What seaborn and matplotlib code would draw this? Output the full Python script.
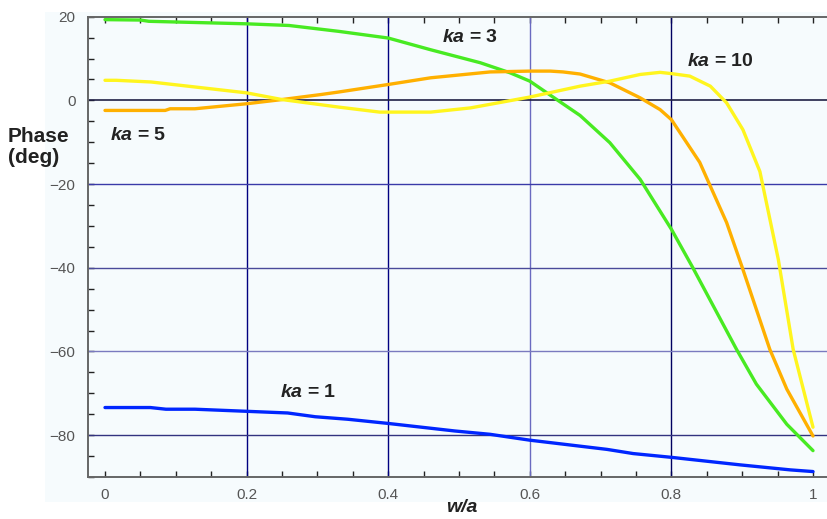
import matplotlib
matplotlib.use("Agg")
import matplotlib.pyplot as plt
import matplotlib.patches as mpatches
from matplotlib.ticker import MultipleLocator
import seaborn as sns

# ---- data ----
blue_x = [0, 0.064, 0.086, 0.127, 0.2, 0.258, 0.297, 0.343, 0.4, 0.494, 0.544, 0.6, 0.709, 0.746, 0.8, 0.897, 0.968, 1.0]
blue_y = [-73.4, -73.4, -73.8, -73.8, -74.3, -74.7, -75.6, -76.2, -77.2, -79.0, -79.8, -81.2, -83.4, -84.4, -85.3, -87.1, -88.3, -88.7]

green_x = [0, 0.05, 0.062, 0.2, 0.26, 0.33, 0.4, 0.46, 0.53, 0.572, 0.6, 0.638, 0.671, 0.713, 0.756, 0.8, 0.83, 0.892, 0.92, 0.963, 1.0]
green_y = [19.3, 19.2, 18.9, 18.3, 17.9, 16.5, 14.9, 12.1, 9.0, 6.6, 4.6, 0.2, -3.6, -10.1, -18.9, -30.8, -39.9, -59.5, -67.8, -77.4, -83.7]

orange_x = [0, 0.085, 0.092, 0.127, 0.2, 0.25, 0.305, 0.33, 0.4, 0.46, 0.544, 0.6, 0.629, 0.647, 0.671, 0.713, 0.756, 0.784, 0.8, 0.84, 0.855, 0.878, 0.9, 0.939, 0.963, 1.0]
orange_y = [-2.4, -2.4, -2.0, -2.0, -0.8, 0.2, 1.4, 2.0, 3.8, 5.4, 6.8, 7.0, 7.0, 6.8, 6.3, 4.2, 0.6, -2.2, -4.6, -14.8, -20.5, -29.2, -39.9, -59.5, -69.0, -80.2]

yellow_x = [0, 0.016, 0.065, 0.2, 0.25, 0.33, 0.388, 0.46, 0.516, 0.6, 0.671, 0.713, 0.756, 0.784, 0.8, 0.826, 0.855, 0.878, 0.901, 0.925, 0.951, 0.972, 1.0]
yellow_y = [4.8, 4.8, 4.4, 1.8, 0.2, -1.6, -2.8, -2.8, -1.8, 0.8, 3.4, 4.6, 6.2, 6.7, 6.4, 5.8, 3.4, -0.6, -7.0, -17.0, -38.0, -59.5, -78.1]

labels = ["ka = 1", "ka = 3", "ka = 5", "ka = 10"]
label_nums = ["1", "3", "5", "10"]
label_pos = [(0.287, -69.8), (0.515, 15.0), (0.047, -8.4), (0.869, 9.2)]

x_ticks = [0, 0.2, 0.4, 0.6, 0.8, 1.0]
x_tick_labels = ["0", "0.2", "0.4", "0.6", "0.8", "1"]
y_ticks = [20, 0, -20, -40, -60, -80]

sns.set_style("white")
plt.rcParams['font.family'] = ['Liberation Sans', 'DejaVu Sans']
plt.rcParams['mathtext.fontset'] = 'custom'
plt.rcParams['mathtext.it'] = 'Liberation Sans:italic:bold'
plt.rcParams['mathtext.rm'] = 'Liberation Sans:bold'

W, H = 827, 519
fig = plt.figure(figsize=(W / 100, H / 100), dpi=100)
fig.patch.set_facecolor("white")
tint = "#f6fbfd"
fig.patches.append(mpatches.Rectangle((45 / W, 1 - 502 / H), (W - 45) / W, (502 - 12) / H,
                                      transform=fig.transFigure, facecolor=tint,
                                      edgecolor="none", zorder=-10))

ax = fig.add_axes([88 / W, 1 - 477 / H, (W - 88) / W, (477 - 16.7) / H])
ax.set_zorder(1)
ax.set_facecolor(tint)

x0, x1 = 105, 813
ax.set_xlim((88 - x0) / (x1 - x0), (W - x0) / (x1 - x0))
ax.set_ylim(-90, 20)

# grid lines
vcols = {0.2: "#000080", 0.4: "#000080", 0.6: "#6a6ac0", 0.8: "#000060"}
for xv, c in vcols.items():
    ax.axvline(xv, color=c, lw=1.0, zorder=1)
hcols = {0: "#202045", -20: "#3a3aa8", -40: "#4a4a9a", -60: "#7a7abf", -80: "#33337f"}
for yv, c in hcols.items():
    ax.axhline(yv, color=c, lw=1.2 if yv == 0 else 1.0, zorder=1)

series = [
    (blue_x, blue_y, "#0026ff"),
    (green_x, green_y, "#48ea22"),
    (orange_x, orange_y, "#ffb000"),
    (yellow_x, yellow_y, "#fff51e"),
]
for xs, ys, c in series:
    sns.lineplot(x=xs, y=ys, color=c, lw=2.4, ax=ax, sort=False, estimator=None, zorder=3)

for num, (lx, ly) in zip(label_nums, label_pos):
    ax.text(lx, ly, r"$\mathit{ka}$ = " + num, fontsize=14, fontweight="bold",
            color="#222222", ha="center", va="center", zorder=4)

# spines / ticks
for s in ["left", "bottom", "top"]:
    ax.spines[s].set_color("#666666")
    ax.spines[s].set_linewidth(1.4)
ax.spines["right"].set_visible(False)

ax.set_xticks(x_ticks)
ax.set_xticklabels(x_tick_labels)
ax.set_yticks(y_ticks)
ax.set_yticklabels([str(v).replace("-", "\u2212") for v in y_ticks])
ax.xaxis.set_minor_locator(MultipleLocator(0.05))
ax.yaxis.set_minor_locator(MultipleLocator(5))
ax.tick_params(axis="both", which="both", direction="in", length=4, width=1, color="#222222",
               labelcolor="#555555", labelsize=11)
ax.tick_params(axis="x", which="both", top=True, bottom=True, pad=8)
ax.tick_params(axis="y", which="both", left=True, right=False, pad=9)
ax.set_xlabel("")
ax.set_ylabel("")

fig.text(8 / W, 1 - 147 / H, "Phase\n(deg)", fontsize=15, fontweight="bold",
         color="#222222", ha="left", va="center", linespacing=1.1)
fig.text(462 / W, 1 - 508 / H, "w/a", fontsize=14, fontweight="bold", style="italic",
         color="#222222", ha="center", va="center")

fig.savefig("out.png", dpi=100, facecolor="white")
